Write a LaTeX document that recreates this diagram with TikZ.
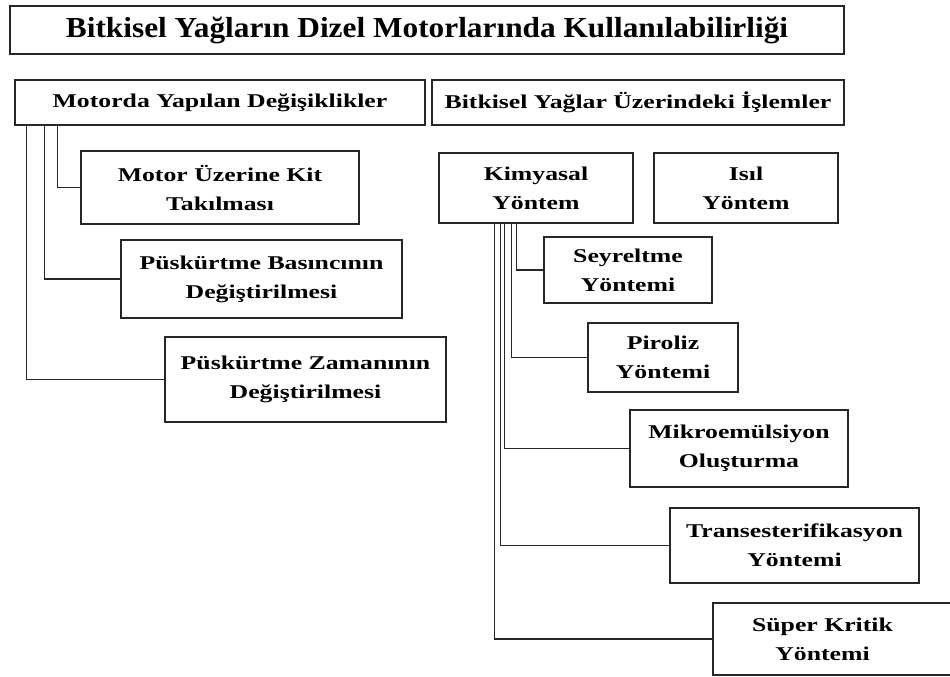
\documentclass[tikz,border=0pt]{standalone}
\usepackage{fontspec}
\setmainfont{Liberation Serif}[FakeStretch=1.32]
\newfontfamily\titlefont{Liberation Serif}[FakeStretch=1.08]
\begin{document}
\begin{tikzpicture}[x=1pt,y=-1pt,
  box/.style={draw=black!85, line width=1.3pt, rectangle, inner sep=0pt, align=center,
    font=\bfseries\fontsize{19.5}{29}\selectfont},
  conn/.style={draw=black!85, line width=1.3pt}]
\useasboundingbox (0,0) rectangle (950,677);
\fill[white] (0,0) rectangle (950,677);
% title
\node[box, minimum width=834pt, minimum height=48pt,
  font=\titlefont\bfseries\fontsize{29}{30}\selectfont] (title) at (427,30) {Bitkisel Yağların Dizel Motorlarında Kullanılabilirliği};
% level 1
\node[box, minimum width=410pt, minimum height=45pt] (motor) at (220,102.5) {Motorda Yapılan Değişiklikler};
\node[box, minimum width=412pt, minimum height=45pt] (yag) at (638,102.5) {Bitkisel Yağlar Üzerindeki İşlemler};
% left children
\node[box, minimum width=278pt, minimum height=73pt] (kit) at (220,187.5) {Motor Üzerine Kit\\Takılması};
\node[box, minimum width=281pt, minimum height=78pt] (basinc) at (261.5,279) {Püskürtme Basıncının\\Değiştirilmesi};
\node[box, minimum width=281pt, minimum height=85pt] (zaman) at (305.5,379.5) {Püskürtme Zamanının\\Değiştirilmesi};
% right level 2
\node[box, minimum width=194pt, minimum height=70pt] (kim) at (536,188) {Kimyasal\\Yöntem};
\node[box, minimum width=184pt, minimum height=70pt] (isil) at (746,188) {Isıl\\Yöntem};
% chemical children
\node[box, minimum width=168pt, minimum height=66pt] (sey) at (628,270) {Seyreltme\\Yöntemi};
\node[box, minimum width=150pt, minimum height=69pt] (pir) at (663,357.5) {Piroliz\\Yöntemi};
\node[box, minimum width=218pt, minimum height=77pt] (mik) at (739,448.5) {Mikroemülsiyon\\Oluşturma};
\node[box, minimum width=249pt, minimum height=75pt] (tra) at (794.5,545.5) {Transesterifikasyon\\Yöntemi};
\node[box, minimum width=247pt, minimum height=72pt,
  label={[xshift=-14pt, align=center, font=\bfseries\fontsize{19.5}{29}\selectfont]center:Süper Kritik\\Yöntemi}] (sup) at (836.5,639) {};
% connectors left
\draw[conn] ([xshift=12pt]motor.south west) |- (zaman.west);
\draw[conn] ([xshift=30pt]motor.south west) |- (basinc.west);
\draw[conn] ([xshift=43pt]motor.south west) |- (kit.west);
% connectors right
\draw[conn] ([xshift=56pt]kim.south west) |- (sup.west);
\draw[conn] ([xshift=62pt]kim.south west) |- (tra.west);
\draw[conn] ([xshift=66pt]kim.south west) |- (mik.west);
\draw[conn] ([xshift=73pt]kim.south west) |- (pir.west);
\draw[conn] ([xshift=78pt]kim.south west) |- (sey.west);
\end{tikzpicture}
\end{document}
